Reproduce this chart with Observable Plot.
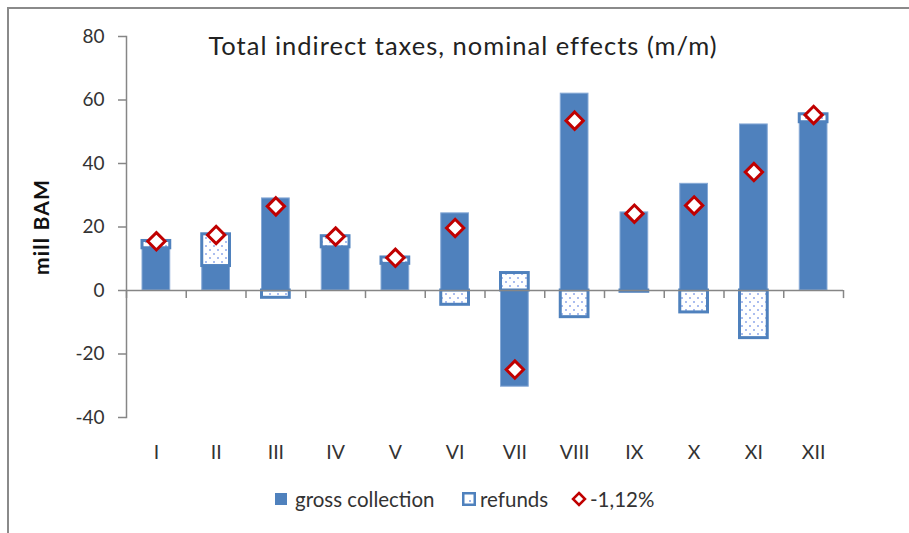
<!DOCTYPE html>
<html>
<head>
<meta charset="utf-8">
<script src="https://cdn.jsdelivr.net/npm/d3@7"></script>
<script src="https://cdn.jsdelivr.net/npm/@observablehq/plot@0.6"></script>
<style>
  html, body { margin: 0; padding: 0; background: #fff; }
  body { width: 909px; height: 533px; position: relative; overflow: hidden; font-family: Lato, "Open Sans", sans-serif; }
  #frame { position: absolute; left: 7px; top: 7px; width: 1000px; height: 1000px; border-left: 2px solid #8a8a8a; border-top: 2px solid #8a8a8a; }
  #chart { position: absolute; left: 0; top: 0; }
  #legend { position: absolute; left: 0; top: 475px; width: 909px; height: 50px; font-size: 20.5px; color: #333; }
  .li { position: absolute; top: 12px; display: flex; align-items: center; white-space: nowrap; }
  .sw { display: inline-block; }
</style>
</head>
<body>
<div id="frame"></div>
<div id="chart"></div>
<div id="legend">
  <div class="li" style="left:275px"><svg class="sw" width="12" height="12" style="margin-right:8px"><rect x="0" y="0" width="12" height="12" fill="#4F81BD"/></svg><span>gross collection</span></div>
  <div class="li" style="left:462px"><svg class="sw" width="14" height="14" style="margin-right:4px"><rect x="1.25" y="1.25" width="11.5" height="11.5" fill="#fff" stroke="#4F81BD" stroke-width="2.5"/><circle cx="8" cy="9" r="0.8" fill="#2a5bd7"/></svg><span>refunds</span></div>
  <div class="li" style="left:571px"><svg class="sw" width="16" height="16" style="margin-right:3px"><path d="M8,2 L14,8 L8,14 L2,8 Z" fill="#fff" stroke="#C00000" stroke-width="2.5"/></svg><span>-1,12%</span></div>
</div>
<script>
const months = ["I","II","III","IV","V","VI","VII","VIII","IX","X","XI","XII"];
const gross   = [13.3, 7.7, 29.0, 13.6, 8.4, 24.3, -30.3, 62.0, 24.6, 33.6, 52.3, 53.0];
const refunds = [2.3, 10.0, -2.3, 3.5, 2.0, -4.5, 5.5, -8.4, -0.4, -6.9, -15.0, 2.5];
const net     = [15.5, 17.5, 26.5, 17.0, 10.3, 19.7, -24.9, 53.5, 24.2, 26.8, 37.3, 55.3];
const yTicks  = [-40, -20, 0, 20, 40, 60, 80];
const title = "Total indirect taxes, nominal effects (m/m)";
const yLabel = "mill BAM";

const rows = [];
months.forEach((m, i) => {
  rows.push({month: m, series: "gross collection", value: gross[i]});
  rows.push({month: m, series: "refunds", value: refunds[i]});
});
const netRows = months.map((m, i) => ({month: m, value: net[i]}));

const blue = "#4F81BD";
const step = 717 / 12;

const plot = Plot.plot({
  width: 909,
  height: 475,
  marginLeft: 126,
  marginRight: 66,
  marginTop: 36,
  marginBottom: 58,
  style: {background: "transparent", fontFamily: "Lato, 'Open Sans', sans-serif", color: "#333"},
  x: {domain: months, padding: 0, round: false},
  y: {domain: [-40, 80]},
  color: {type: "identity"},
  marks: [
    Plot.frame({anchor: "left", stroke: "#868686", strokeWidth: 1.5}),
    Plot.axisY({ticks: yTicks, tickFormat: d => String(d), tickSize: 8, tickPadding: 14, fontSize: 19, label: null, stroke: "#868686", strokeWidth: 1.5}),
    Plot.axisX({tickSize: 0, tickPadding: 28, fontSize: 19.5, label: null}),
    Plot.barY(rows, Plot.stackY({
      x: "month",
      y: "value",
      z: "series",
      fill: d => d.series === "refunds" ? "url(#dots)" : blue,
      stroke: d => d.series === "refunds" ? blue : "#86a9d6",
      strokeWidth: d => d.series === "refunds" ? 3 : 1,
      insetLeft: 16,
      insetRight: 16
    })),
    Plot.ruleY([0], {stroke: "#868686", strokeWidth: 1.5}),
    Plot.ruleX(months, {x: d => d, y1: 0, y2: -2.55, dx: -step / 2, stroke: "#868686", strokeWidth: 1.5}),
    Plot.ruleX(months.slice(-1), {x: d => d, y1: 0, y2: -2.55, dx: step / 2, stroke: "#868686", strokeWidth: 1.5}),
    Plot.dot(netRows, {x: "month", y: "value", symbol: "diamond2", r: 7.8, fill: "white", stroke: "#C00000", strokeWidth: 3}),
    Plot.text([title], {frameAnchor: "top", textAnchor: "middle", lineAnchor: "middle", dx: -22, dy: 10, fontSize: 25.5, fill: "#222"}),
    Plot.text([yLabel], {frameAnchor: "left", textAnchor: "middle", lineAnchor: "middle", dx: -84, rotate: -90, fontSize: 21, fontWeight: "bold", fill: "#111"})
  ]
});

d3.select(plot).selectAll("text").filter(function() { return this.textContent === title || this.textContent === yLabel; })
  .style("letter-spacing", function() { return this.textContent === title ? "1px" : "1.2px"; });

d3.select(plot).insert("defs", ":first-child").html(
  '<pattern id="dots" patternUnits="userSpaceOnUse" width="8" height="8">' +
  '<rect width="8" height="8" fill="#fff"/>' +
  '<circle cx="2" cy="2" r="0.75" fill="#2a5bd7"/>' +
  '<circle cx="6" cy="6" r="0.75" fill="#2a5bd7"/>' +
  '</pattern>'
);

document.getElementById("chart").appendChild(plot);
</script>
</body>
</html>
